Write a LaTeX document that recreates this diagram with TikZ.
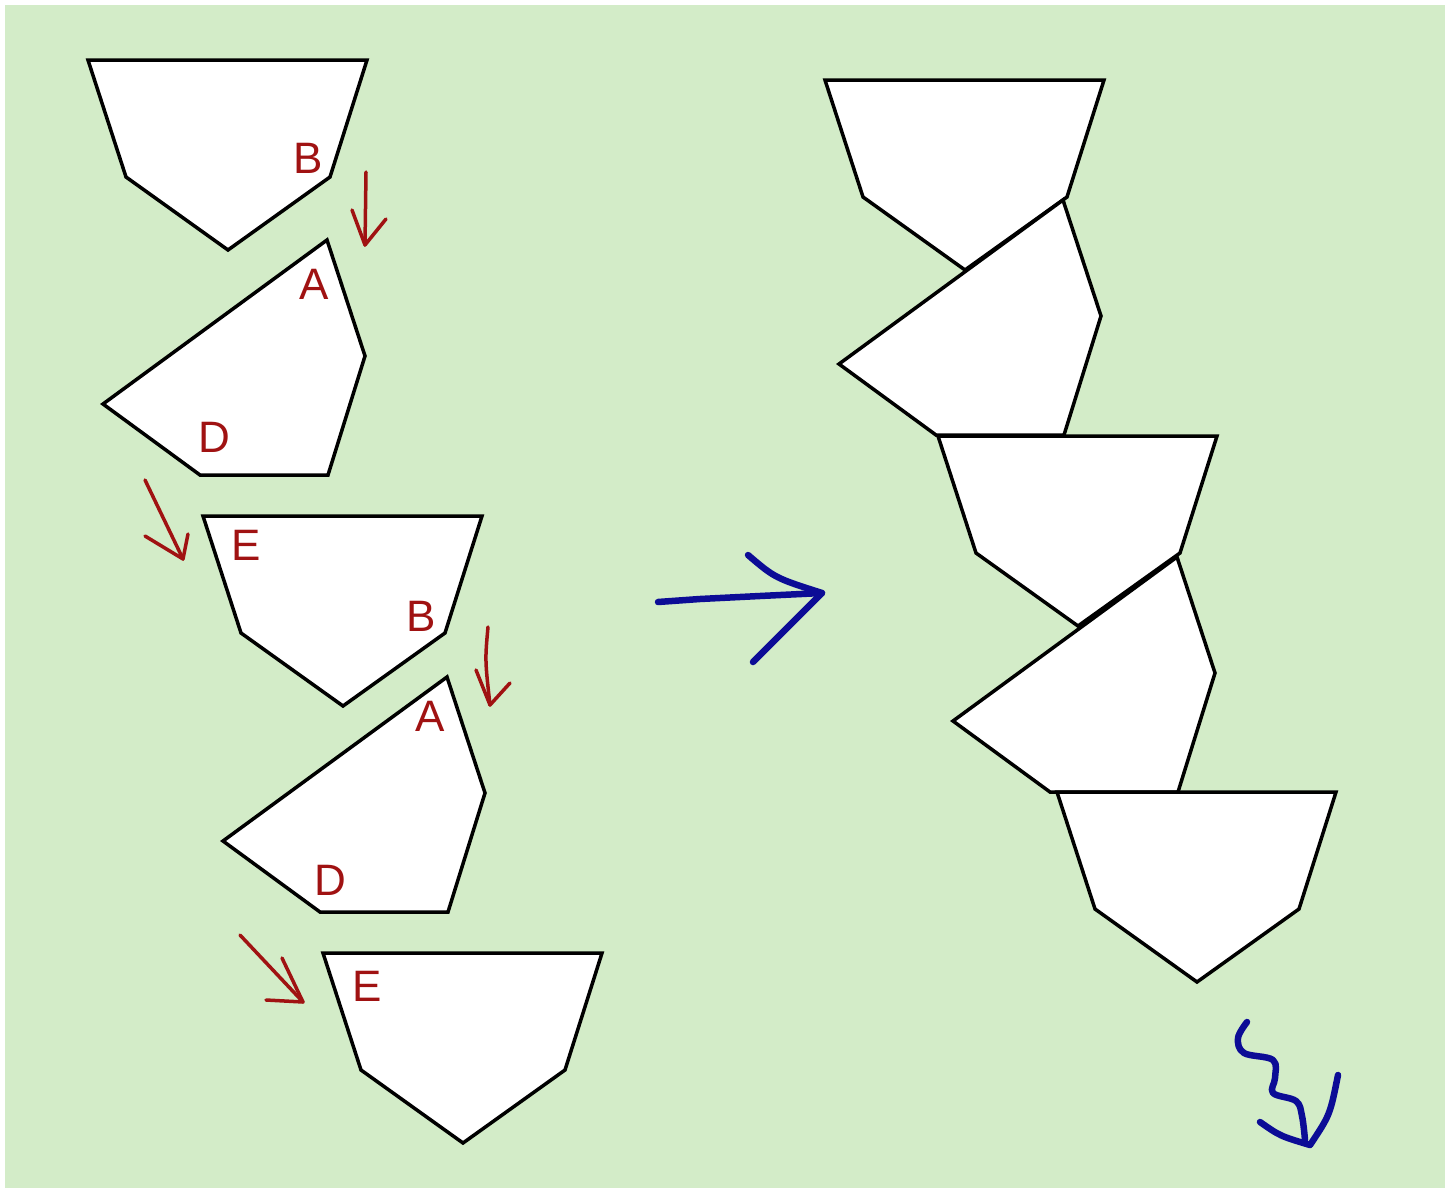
\documentclass[tikz,border=0pt]{standalone}
\usepackage{fontspec}
\setmainfont{Liberation Sans}
\definecolor{bggreen}{RGB}{211,236,200}
\definecolor{penred}{RGB}{160,18,18}
\definecolor{penblue}{RGB}{12,12,150}
\begin{document}
\begin{tikzpicture}[x=1pt,y=-1pt,
  poly/.style={draw=black,fill=white,line width=3.5pt,line join=miter},
  cup/.pic={\draw[poly] (0,0) -- (279,0) -- (242,117) -- (140,190) -- (38,117) -- cycle;},
  tilt/.pic={\draw[poly] (0,0) -- (38,116) -- (1,235) -- (-127,235) -- (-224,164) -- cycle;},
  letter/.style={text=penred,font=\fontsize{44}{44}\selectfont,inner sep=0pt},
  redpen/.style={draw=penred,line width=3.5pt,line cap=round,line join=round},
  bluepen/.style={draw=penblue,line width=6.5pt,line cap=round,line join=round}]
\useasboundingbox (0,0) rectangle (1454,1191);
\fill[white] (0,0) rectangle (1454,1191);
\fill[bggreen] (5,5) rectangle (1445,1188);

% left column
\pic at (88,60) {cup};
\pic at (327,240) {tilt};
\pic at (203,516) {cup};
\pic at (447,677) {tilt};
\pic at (323,953) {cup};

% right column
\pic at (825,80) {cup};
\pic at (1063,200) {tilt};
\pic at (938,436) {cup};
\pic at (1177,557) {tilt};
\pic at (1057,792) {cup};

% letters
\node[letter] (b1) at (308,158) {B};
\node[letter] (a1) at (314,284) {A};
\node[letter] (d1) at (214,437) {D};
\node[letter] (e1) at (246,545) {E};
\node[letter] (b2) at (421,616) {B};
\node[letter] (a2) at (430,716) {A};
\node[letter] (d2) at (330,880) {D};
\node[letter] (e2) at (367,986) {E};

% red arrows
\coordinate (r1s) at (366,172); \coordinate (r1t) at (365,245);
\draw[redpen] (r1s) -- (r1t);
\draw[redpen] (352,210) -- (r1t) -- (386,219);

\coordinate (r2s) at (145,480); \coordinate (r2t) at (183,559);
\draw[redpen] (r2s) -- (r2t);
\draw[redpen] (145,536) -- (r2t) -- (188,534);

\coordinate (r3s) at (488,627); \coordinate (r3t) at (490,705);
\draw[redpen] (r3s) .. controls (485,660) .. (r3t);
\draw[redpen] (476,670) -- (r3t) -- (510,683);

\coordinate (r4s) at (240,935); \coordinate (r4t) at (303,1002);
\draw[redpen] (r4s) -- (r4t);
\draw[redpen] (266,1000) -- (r4t) -- (282,958);

% blue arrow
\coordinate (bs) at (658,602); \coordinate (bt) at (822,593);
\draw[bluepen] (bs) -- (700,599) -- (760,596) -- (bt);
\draw[bluepen] (748,555) .. controls (775,578) .. (bt) -- (753,662);

% blue squiggle arrow
\coordinate (sq) at (1310,1145);
\draw[bluepen] plot[smooth,tension=0.6] coordinates {(1247,1022) (1238,1038) (1244,1053) (1273,1060) (1275,1078)
  (1273,1093) (1296,1101) (1302,1116) (1305,1140)};
\draw[bluepen] (1260,1122) .. controls (1280,1136) .. (sq) .. controls (1330,1115) .. (1338,1075);
\end{tikzpicture}
\end{document}
